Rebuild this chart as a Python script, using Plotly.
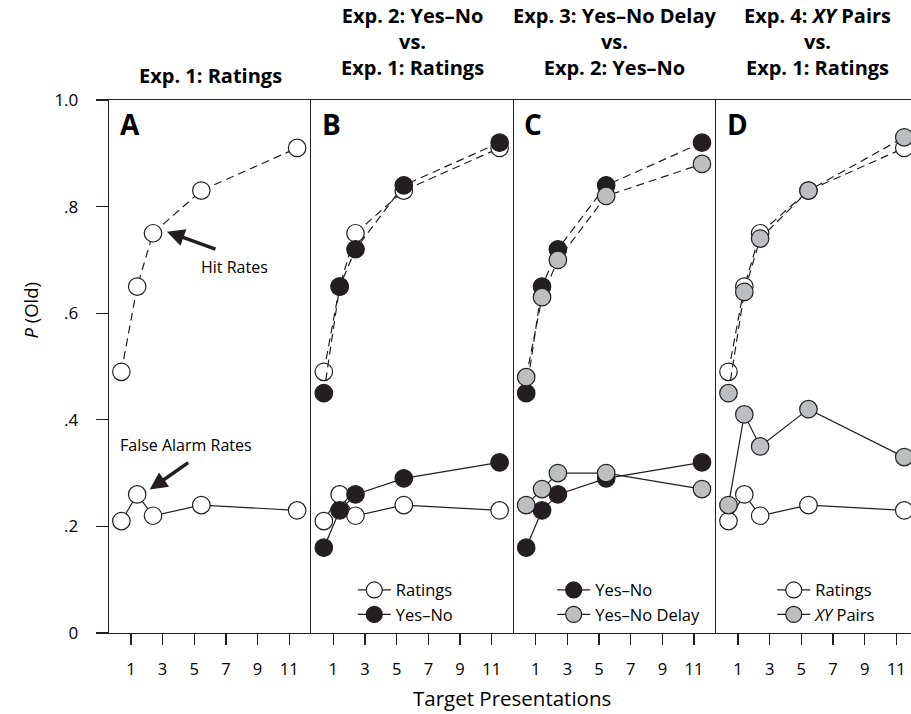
import plotly.graph_objects as go

# ---------------- data ----------------
presentations_x = [0.4, 1.4, 2.4, 5.45, 11.5]
tick_vals_x = [1, 3, 5, 7, 9, 11]
tick_vals_y = [0, 0.2, 0.4, 0.6, 0.8, 1.0]
tick_text_y = ["0", ".2", ".4", ".6", ".8", "1.0"]

ratings_hit = [0.49, 0.65, 0.75, 0.83, 0.91]
ratings_fa = [0.21, 0.26, 0.22, 0.24, 0.23]
yesno_hit = [0.45, 0.65, 0.72, 0.84, 0.92]
yesno_fa = [0.16, 0.23, 0.26, 0.29, 0.32]
delay_hit = [0.48, 0.63, 0.70, 0.82, 0.88]
delay_fa = [0.24, 0.27, 0.30, 0.30, 0.27]
xy_hit = [0.45, 0.64, 0.74, 0.83, 0.93]
xy_fa = [0.24, 0.41, 0.35, 0.42, 0.33]

panel_titles = [
    "Exp. 1: Ratings",
    "Exp. 2: Yes\u2013No<br>vs.<br>Exp. 1: Ratings",
    "Exp. 3: Yes\u2013No Delay<br>vs.<br>Exp. 2: Yes\u2013No",
    "Exp. 4: <i>XY</i> Pairs<br>vs.<br>Exp. 1: Ratings",
]
panel_letters = ["A", "B", "C", "D"]

# ---------------- style ----------------
INK = "#231f20"
GREY = "#bcbec0"
FONT = "Open Sans"
W, H = 911, 714
ML, MT, MB = 109.3, 100, 80.7
PW = W - ML
PH = H - MT - MB
UNIT = 15.83  # px per x unit
XMIN = -0.38

edges = [0, 202.4, 404.7, 606.9, PW]
domains = [[edges[i] / PW, edges[i + 1] / PW] for i in range(4)]


def px2paper_x(px):
    return (px - ML) / PW


def px2paper_y(py):
    return (H - MB - py) / PH


fig = go.Figure()

STYLE = {
    "ratings": dict(color="white", name="Ratings"),
    "yesno": dict(color=INK, name="Yes\u2013No"),
    "delay": dict(color=GREY, name="Yes\u2013No Delay"),
    "xy": dict(color=GREY, name="<i>XY</i> Pairs"),
}

panels = [
    [("ratings", ratings_hit, ratings_fa)],
    [("ratings", ratings_hit, ratings_fa), ("yesno", yesno_hit, yesno_fa)],
    [("yesno", yesno_hit, yesno_fa), ("delay", delay_hit, delay_fa)],
    [("ratings", ratings_hit, ratings_fa), ("xy", xy_hit, xy_fa)],
]
legend_ids = [None, "legend", "legend2", "legend3"]

for p, series in enumerate(panels):
    xa = "x" if p == 0 else f"x{p+1}"
    ya = "y" if p == 0 else f"y{p+1}"
    for key, hit, fa in series:
        st = STYLE[key]
        marker = dict(size=17.5, color=st["color"], line=dict(color=INK, width=1.2))
        fig.add_trace(go.Scatter(
            x=presentations_x, y=hit, mode="lines+markers", xaxis=xa, yaxis=ya,
            line=dict(color=INK, width=1.2, dash="8px,5px"), marker=marker,
            showlegend=False, cliponaxis=False, hoverinfo="skip"))
        fig.add_trace(go.Scatter(
            x=presentations_x, y=fa, mode="lines+markers", xaxis=xa, yaxis=ya,
            line=dict(color=INK, width=1.2), marker=marker, name=st["name"],
            showlegend=legend_ids[p] is not None,
            legend=legend_ids[p] if legend_ids[p] else "legend",
            cliponaxis=False, hoverinfo="skip"))

layout = dict(
    width=W, height=H,
    margin=dict(l=ML, r=0, t=MT, b=MB),
    paper_bgcolor="white", plot_bgcolor="white",
    font=dict(family=FONT, color=INK, size=16),
)
for p in range(4):
    xk = "xaxis" if p == 0 else f"xaxis{p+1}"
    yk = "yaxis" if p == 0 else f"yaxis{p+1}"
    wpx = edges[p + 1] - edges[p]
    layout[xk] = dict(
        domain=domains[p], range=[XMIN, XMIN + wpx / UNIT],
        tickmode="array", tickvals=tick_vals_x, ticktext=[str(v) for v in tick_vals_x],
        ticks="outside", ticklen=11, tickwidth=1.3, tickcolor=INK,
        ticklabelstandoff=10,
        showline=True, linecolor=INK, linewidth=1.3, mirror=True,
        showgrid=False, zeroline=False, tickfont=dict(size=16.5, family=FONT, color="black"),
        anchor="y" if p == 0 else f"y{p+1}", fixedrange=True,
    )
    layout[yk] = dict(
        domain=[0, 1], range=[0, 1],
        tickmode="array", tickvals=tick_vals_y, ticktext=tick_text_y,
        ticks="outside" if p == 0 else "", ticklen=12, tickwidth=1.3, tickcolor=INK,
        ticklabelstandoff=14,
        showticklabels=(p == 0),
        showline=True, linecolor=INK, linewidth=1.3, mirror=False,
        showgrid=False, zeroline=False, tickfont=dict(size=17, family=FONT, color="black"),
        anchor="x" if p == 0 else f"x{p+1}", fixedrange=True,
    )

legend_base = dict(
    bgcolor="rgba(0,0,0,0)", borderwidth=0, font=dict(size=16.5, family=FONT, color="black"),
    xanchor="left", yanchor="top", itemwidth=33, tracegroupgap=0,
    itemclick=False, itemdoubleclick=False,
)
legend_sym_px = [None, 374, 573.3, 793.3]
legend_keys = [None, "legend", "legend2", "legend3"]
for p in range(1, 4):
    layout[legend_keys[p]] = dict(legend_base,
                                  x=px2paper_x(legend_sym_px[p] - 21),
                                  y=px2paper_y(573))
fig.update_layout(**layout)

annotations = []
# panel titles
for p in range(4):
    cx = (edges[p] + edges[p + 1]) / 2 if p < 3 else (edges[3] + edges[3] + 202.4) / 2
    cy = 75 if p == 0 else 41
    annotations.append(dict(
        text=f"<b>{panel_titles[p]}</b>", xref="paper", yref="paper",
        x=cx / PW, y=px2paper_y(cy), xanchor="center", yanchor="middle",
        showarrow=False, font=dict(size=20, family=FONT, color="black"), align="center"))
# panel letters
letter_off = [9, 8.5, 8, 9]
for p in range(4):
    annotations.append(dict(
        text=f"<b>{panel_letters[p]}</b>", xref="paper", yref="paper",
        x=(edges[p] + letter_off[p]) / PW, y=px2paper_y(124), xanchor="left", yanchor="middle",
        showarrow=False, font=dict(size=28, family=FONT, color="black")))
# axis titles
annotations.append(dict(
    text="Target Presentations", xref="paper", yref="paper",
    x=px2paper_x(512), y=px2paper_y(698), xanchor="center", yanchor="middle",
    showarrow=False, font=dict(size=20.5, family=FONT, color="black")))
annotations.append(dict(
    text="<i>P</i> (Old)", xref="paper", yref="paper", textangle=-90,
    x=px2paper_x(31), y=px2paper_y(310), xanchor="center", yanchor="middle",
    showarrow=False, font=dict(size=18.5, family=FONT, color="black")))
# panel A callouts
annotations.append(dict(
    text="Hit Rates", xref="x", yref="y", x=7.56, y=0.687,
    xanchor="center", yanchor="middle", showarrow=False,
    font=dict(size=16, family=FONT, color="black")))
annotations.append(dict(
    text="False Alarm Rates", xref="x", yref="y", x=4.51, y=0.353,
    xanchor="center", yanchor="middle", showarrow=False,
    font=dict(size=16, family=FONT, color="black")))
annotations.append(dict(
    text="", xref="x", yref="y", x=3.28, y=0.753, ax=50, ay=18,
    showarrow=True, arrowhead=2, arrowsize=1, arrowwidth=3.5, arrowcolor=INK, standoff=0))
annotations.append(dict(
    text="", xref="x", yref="y", x=2.19, y=0.269, ax=40, ay=-28,
    showarrow=True, arrowhead=2, arrowsize=1, arrowwidth=3.5, arrowcolor=INK, standoff=0))

fig.update_layout(annotations=annotations)
fig.write_html(
    "out.html",
    config={"displayModeBar": False, "staticPlot": True},
    post_script="document.body.style.margin='0';document.body.style.overflow='hidden';",
)
